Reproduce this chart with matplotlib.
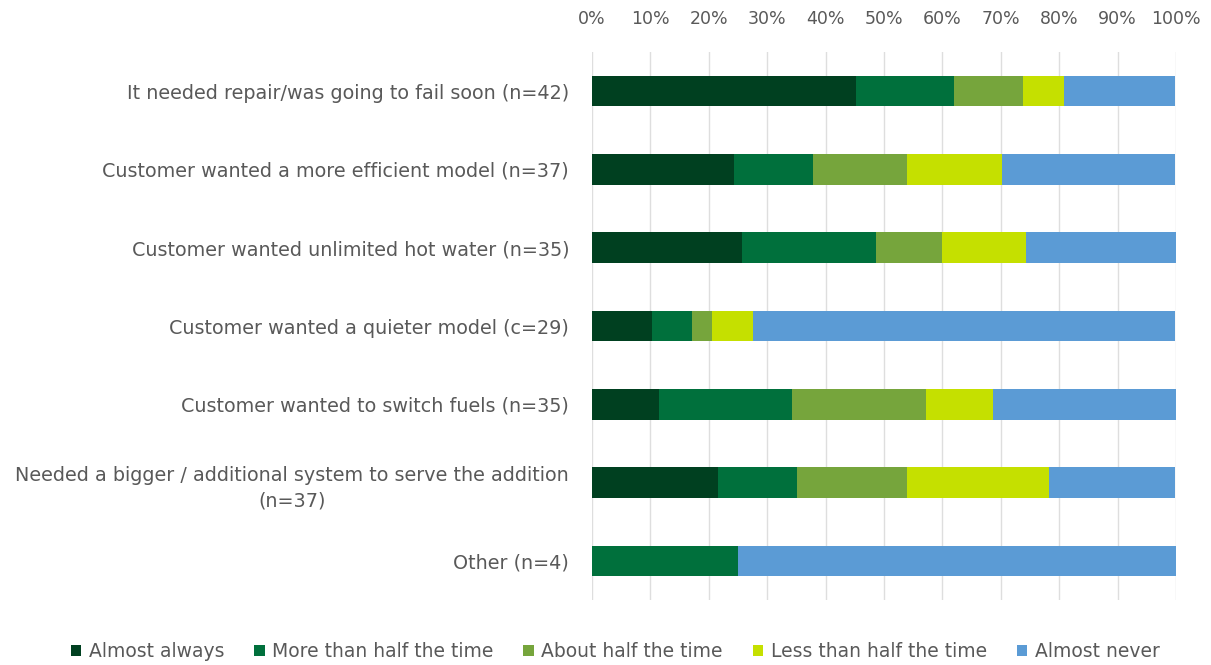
import matplotlib
matplotlib.use("Agg")
import matplotlib.pyplot as plt
import numpy as np

plt.rcParams['font.family'] = ['DejaVu Sans']

categories = [
    "It needed repair/was going to fail soon (n=42)",
    "Customer wanted a more efficient model (n=37)",
    "Customer wanted unlimited hot water (n=35)",
    "Customer wanted a quieter model (c=29)",
    "Customer wanted to switch fuels (n=35)",
    "Needed a bigger / additional system to serve the addition\n(n=37)",
    "Other (n=4)",
]
series = ["Almost always", "More than half the time", "About half the time",
          "Less than half the time", "Almost never"]
almost_always = [45.2, 24.3, 25.7, 10.3, 11.4, 21.6, 0.0]
more_than_half = [16.7, 13.5, 22.9, 6.9, 22.9, 13.5, 25.0]
about_half = [11.9, 16.2, 11.4, 3.4, 22.9, 18.9, 0.0]
less_than_half = [7.1, 16.2, 14.3, 6.9, 11.4, 24.3, 0.0]
almost_never = [19.0, 29.7, 25.7, 72.4, 31.4, 21.6, 75.0]
values = [almost_always, more_than_half, about_half, less_than_half, almost_never]
colors = ["#004020", "#00703C", "#76A53C", "#C5E000", "#5B9BD5"]
text_color = "#595959"

fig = plt.figure(figsize=(12.11, 6.65), dpi=100)
ax = fig.add_axes([0.4889, 0.0977, 0.4822, 0.8241])

y = np.arange(len(categories))
left = np.zeros(len(categories))
for name, vals, c in zip(series, values, colors):
    vals = np.array(vals)
    ax.barh(y, vals, left=left, height=0.39, color=c, label=name, zorder=3)
    left += vals

ax.set_xlim(0, 100)
ax.set_ylim(len(categories) - 0.5, -0.5)
ax.set_xticks(np.arange(0, 101, 10))
ax.set_xticklabels([f"{t}%" for t in range(0, 101, 10)])
ax.xaxis.tick_top()
ax.set_yticks(y)
ax.set_yticklabels(categories, ha="right", multialignment="center",
                   linespacing=1.45)
ax.tick_params(axis="y", length=0, pad=16.5, labelsize=13.8, labelcolor=text_color)
ax.tick_params(axis="x", length=0, pad=17, labelsize=12.5, labelcolor=text_color)
ax.grid(axis="x", color="#DEDEDE", linewidth=1, zorder=0)
for s in ax.spines.values():
    s.set_visible(False)

fig.legend(loc="center", bbox_to_anchor=(0.508, 0.02), ncol=5, frameon=False,
           fontsize=13.5, handlelength=0.55, handleheight=0.55, handletextpad=0.4,
           columnspacing=1.6, labelcolor=text_color)

fig.savefig("out.png", dpi=100)
